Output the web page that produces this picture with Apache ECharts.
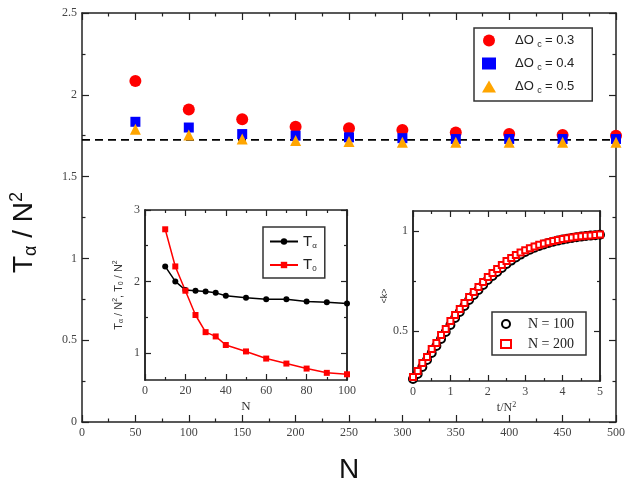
<!DOCTYPE html>
<html>
<head>
<meta charset="utf-8">
<script src="https://cdn.jsdelivr.net/npm/echarts@6/dist/echarts.min.js"></script>
<style>
  html, body { margin: 0; padding: 0; background: #fff; }
  #main { width: 628px; height: 489px; }
</style>
</head>
<body>
<div id="main"></div>
<script>
// main panel: T_alpha / N^2 against N
var mainN = [50, 100, 150, 200, 250, 300, 350, 400, 450, 500];
var dOc03 = [2.085, 1.91, 1.85, 1.805, 1.795, 1.785, 1.77, 1.76, 1.755, 1.75];
var dOc04 = [1.835, 1.80, 1.76, 1.75, 1.74, 1.735, 1.73, 1.73, 1.73, 1.73];
var dOc05 = [1.79, 1.755, 1.73, 1.72, 1.715, 1.71, 1.71, 1.71, 1.71, 1.71];
var dashN = [0, 500];
var dashY = [1.724, 1.724];

// left inset: T_alpha and T_0 against N
var insetN = [10, 15, 20, 25, 30, 35, 40, 50, 60, 70, 80, 90, 100];
var tAlpha = [2.21, 2.0, 1.88, 1.87, 1.86, 1.84, 1.80, 1.77, 1.75, 1.75, 1.72, 1.71, 1.69];
var tZero = [2.73, 2.21, 1.87, 1.53, 1.29, 1.23, 1.11, 1.02, 0.92, 0.85, 0.78, 0.72, 0.70];

// right inset: <k> against t/N^2
var tN2 = [0, 0.125, 0.25, 0.375, 0.5, 0.625, 0.75, 0.875, 1, 1.125, 1.25, 1.375, 1.5, 1.625, 1.75, 1.875,
  2, 2.125, 2.25, 2.375, 2.5, 2.625, 2.75, 2.875, 3, 3.125, 3.25, 3.375, 3.5, 3.625, 3.75, 3.875,
  4, 4.125, 4.25, 4.375, 4.5, 4.625, 4.75, 4.875, 5];
var kN100 = [0.26, 0.285, 0.32, 0.355, 0.39, 0.425, 0.46, 0.495, 0.53, 0.565, 0.595, 0.625, 0.655, 0.68, 0.705, 0.73,
  0.755, 0.775, 0.795, 0.815, 0.835, 0.852, 0.868, 0.882, 0.895, 0.906, 0.916, 0.925, 0.933, 0.94, 0.946, 0.952,
  0.957, 0.961, 0.965, 0.969, 0.972, 0.975, 0.977, 0.979, 0.981];
var kN200 = [0.27, 0.30, 0.34, 0.37, 0.41, 0.44, 0.48, 0.51, 0.55, 0.58, 0.61, 0.64, 0.67, 0.695, 0.72, 0.745,
  0.77, 0.79, 0.81, 0.83, 0.85, 0.865, 0.88, 0.892, 0.904, 0.914, 0.923, 0.931, 0.938, 0.944, 0.95, 0.955,
  0.96, 0.964, 0.968, 0.971, 0.974, 0.976, 0.978, 0.98, 0.982];

function pairs(xs, ys) {
    var out = [];
    for (var i = 0; i < xs.length; i++) out.push([xs[i], ys[i]]);
    return out;
}

var serif = 'Liberation Serif';
var sans = 'Liberation Sans';
var lineCol = '#222';

// plain axis with inside ticks, used for all frames
function axis(opt) {
    var a = {
        type: 'value',
        gridIndex: opt.grid,
        position: opt.position,
        min: opt.min,
        max: opt.max,
        interval: opt.interval,
        axisLine: { show: true, onZero: false, lineStyle: { color: lineCol, width: 1.5 } },
        axisTick: { show: opt.ticks !== false, inside: true, length: opt.tickLen || 6, lineStyle: { color: lineCol, width: 1.2 } },
        minorTick: { show: !!opt.minor, splitNumber: opt.minor || 2, length: (opt.tickLen || 6) / 2, lineStyle: { color: lineCol, width: 1.2 } },
        splitLine: { show: false },
        axisLabel: opt.labels ? {
            show: true, fontFamily: serif, fontSize: opt.fontSize || 12, color: '#444', margin: 5,
            formatter: function (v) { return String(Math.round(v * 100) / 100); }
        } : { show: false }
    };
    if (opt.tickValues) a.axisTick.customValues = opt.tickValues;
    if (opt.labelValues) a.axisLabel.customValues = opt.labelValues;
    if (opt.name) {
        a.name = opt.name;
        a.nameLocation = 'middle';
        a.nameGap = opt.nameGap;
        a.nameTextStyle = opt.nameStyle;
    }
    return a;
}

var myChart = echarts.init(document.getElementById('main'));
var option = {
    backgroundColor: '#fff',
    animation: false,
    grid: [
        { left: 78, right: 11, top: 13, bottom: 52 },
        { left: 145, width: 202, top: 210, height: 170, show: true, backgroundColor: '#fff', borderWidth: 0 },
        { left: 413, width: 187, top: 211, height: 170, show: true, backgroundColor: '#fff', borderWidth: 0 }
    ],
    xAxis: [
        axis({ grid: 0, position: 'bottom', min: 0, max: 500, interval: 50, minor: 2, labels: true, tickLen: 7,
            name: 'N', nameGap: 34, nameStyle: { fontFamily: sans, fontSize: 28, color: '#111' } }),
        axis({ grid: 0, position: 'top', min: 0, max: 500, interval: 50, minor: 2, tickLen: 7 }),
        axis({ grid: 1, position: 'bottom', min: 0, max: 100, interval: 20, minor: 2, labels: true, tickLen: 6,
            name: 'N', nameGap: 20, nameStyle: { fontFamily: serif, fontSize: 13, color: '#333' } }),
        axis({ grid: 1, position: 'top', min: 0, max: 100, interval: 20, minor: 2, tickLen: 6 }),
        axis({ grid: 2, position: 'bottom', min: 0, max: 5, interval: 1, minor: 2, labels: true, tickLen: 6,
            name: 't/N{sup|2}', nameGap: 20,
            nameStyle: { fontFamily: serif, fontSize: 12, color: '#333', rich: { sup: { fontFamily: serif, fontSize: 8, verticalAlign: 'top', padding: [0, 0, 6, 0] } } } }),
        axis({ grid: 2, position: 'top', min: 0, max: 5, interval: 1, minor: 2, tickLen: 6 })
    ],
    yAxis: [
        axis({ grid: 0, position: 'left', min: 0, max: 2.5, interval: 0.5, minor: 2, labels: true, tickLen: 7,
            name: 'T{sub|α} / N{sup|2}', nameGap: 42,
            nameStyle: {
                fontFamily: sans, fontSize: 28, color: '#111', padding: [0, 30, 0, 0],
                rich: {
                    sub: { fontFamily: sans, fontSize: 18, color: '#111', verticalAlign: 'bottom', padding: [10, 0, 0, 0] },
                    sup: { fontFamily: sans, fontSize: 18, color: '#111', verticalAlign: 'top', padding: [0, 0, 14, 0] }
                }
            } }),
        axis({ grid: 0, position: 'right', min: 0, max: 2.5, interval: 0.5, minor: 2, tickLen: 7 }),
        axis({ grid: 1, position: 'left', min: 0.62, max: 3, labels: true, tickLen: 6,
            tickValues: [1, 2, 3], labelValues: [1, 2, 3],
            name: 'T{sub|α} / N{sup|2}, T{sub|0} / N{sup|2}', nameGap: 20,
            nameStyle: {
                fontFamily: sans, fontSize: 11, color: '#333',
                rich: {
                    sub: { fontFamily: sans, fontSize: 7, verticalAlign: 'bottom', padding: [5, 0, 0, 0] },
                    sup: { fontFamily: sans, fontSize: 7, verticalAlign: 'top', padding: [0, 0, 6, 0] }
                }
            } }),
        axis({ grid: 1, position: 'right', min: 0.62, max: 3, tickLen: 6, tickValues: [1, 2, 3] }),
        axis({ grid: 1, position: 'left', min: 0.62, max: 3, tickLen: 3, tickValues: [1.5, 2.5] }),
        axis({ grid: 1, position: 'right', min: 0.62, max: 3, tickLen: 3, tickValues: [1.5, 2.5] }),
        axis({ grid: 2, position: 'left', min: 0.25, max: 1.1, labels: true, tickLen: 6,
            tickValues: [0.5, 1], labelValues: [0.5, 1],
            name: '<k>', nameGap: 14, nameStyle: { fontFamily: sans, fontSize: 9, color: '#333' } }),
        axis({ grid: 2, position: 'right', min: 0.25, max: 1.1, tickLen: 6, tickValues: [0.5, 1] }),
        axis({ grid: 2, position: 'left', min: 0.25, max: 1.1, tickLen: 3, tickValues: [0.75] }),
        axis({ grid: 2, position: 'right', min: 0.25, max: 1.1, tickLen: 3, tickValues: [0.75] })
    ],
    legend: [
        {
            data: ['dO3', 'dO4', 'dO5'], orient: 'vertical', left: 474, top: 28,
            itemWidth: 14, itemHeight: 12, itemGap: 8,
            padding: [6, 18, 6, 8], borderColor: '#333', borderWidth: 1.5, backgroundColor: '#fff',
            formatter: function (n) {
                return { dO3: '{t|ΔO} {s|c} {t|= 0.3}', dO4: '{t|ΔO} {s|c} {t|= 0.4}', dO5: '{t|ΔO} {s|c} {t|= 0.5}' }[n];
            },
            textStyle: {
                padding: [0, 0, 0, 14],
                rich: {
                    t: { fontFamily: sans, fontSize: 13, color: '#222' },
                    s: { fontFamily: sans, fontSize: 9, color: '#222', verticalAlign: 'bottom', padding: [8, 0, 0, 0] }
                }
            }
        },
        {
            data: ['Ta', 'T0'], orient: 'vertical', left: 263, top: 227,
            itemWidth: 28, itemHeight: 8, itemGap: 8,
            padding: [7, 8, 5, 6], borderColor: '#333', borderWidth: 1.5, backgroundColor: '#fff',
            formatter: function (n) { return n === 'Ta' ? '{t|T}{s|α}' : '{t|T}{s|0}'; },
            textStyle: {
                rich: {
                    t: { fontFamily: sans, fontSize: 15, color: '#222' },
                    s: { fontFamily: sans, fontSize: 8, color: '#222', verticalAlign: 'bottom', padding: [8, 0, 0, 0] }
                }
            }
        },
        {
            data: ['N100', 'N200'], orient: 'vertical', left: 492, top: 312,
            itemWidth: 10, itemHeight: 8, itemGap: 6,
            padding: [5, 12, 4, 8], borderColor: '#333', borderWidth: 1.5, backgroundColor: '#fff',
            formatter: function (n) { return n === 'N100' ? 'N = 100' : 'N = 200'; },
            textStyle: { fontFamily: serif, fontSize: 14, color: '#222', padding: [0, 0, 0, 12] }
        }
    ],
    series: [
        {
            name: 'dash', type: 'line', xAxisIndex: 0, yAxisIndex: 0, showSymbol: false, silent: true,
            lineStyle: { color: '#000', width: 1.8, type: [8, 5] },
            data: pairs(dashN, dashY), z: 1
        },
        {
            name: 'dO3', type: 'scatter', xAxisIndex: 0, yAxisIndex: 0, symbol: 'circle', symbolSize: 12,
            itemStyle: { color: '#ff0000', opacity: 1 }, data: pairs(mainN, dOc03), z: 2
        },
        {
            name: 'dO4', type: 'scatter', xAxisIndex: 0, yAxisIndex: 0, symbol: 'rect', symbolSize: 10,
            itemStyle: { color: '#0000ff', opacity: 1 }, data: pairs(mainN, dOc04), z: 3
        },
        {
            name: 'dO5', type: 'scatter', xAxisIndex: 0, yAxisIndex: 0, symbol: 'triangle', symbolSize: 11,
            itemStyle: { color: '#ffa500', opacity: 1 }, data: pairs(mainN, dOc05), z: 4
        },
        {
            name: 'Ta', type: 'line', xAxisIndex: 2, yAxisIndex: 2, symbol: 'circle', symbolSize: 6,
            lineStyle: { color: '#000', width: 1.5 }, itemStyle: { color: '#000' },
            data: pairs(insetN, tAlpha)
        },
        {
            name: 'T0', type: 'line', xAxisIndex: 2, yAxisIndex: 2, symbol: 'rect', symbolSize: 6,
            lineStyle: { color: '#ff0000', width: 1.5 }, itemStyle: { color: '#ff0000' },
            data: pairs(insetN, tZero)
        },
        {
            name: 'N100', type: 'scatter', xAxisIndex: 4, yAxisIndex: 6, symbol: 'emptyCircle', symbolSize: 8,
            itemStyle: { color: '#000', borderColor: '#000', borderWidth: 1, opacity: 1 },
            data: pairs(tN2, kN100)
        },
        {
            name: 'N200', type: 'scatter', xAxisIndex: 4, yAxisIndex: 6, symbol: 'emptyRect', symbolSize: 6,
            itemStyle: { color: '#ff0000', borderColor: '#ff0000', borderWidth: 1, opacity: 1 },
            data: pairs(tN2, kN200)
        }
    ]
};
myChart.setOption(option);
</script>
</body>
</html>
